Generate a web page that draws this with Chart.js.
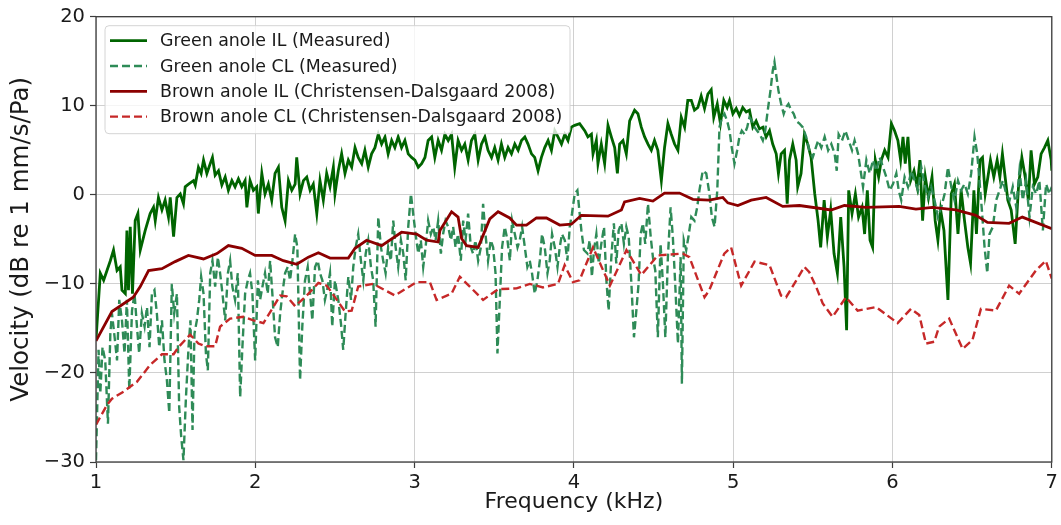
<!DOCTYPE html>
<html>
<head>
<meta charset="utf-8">
<script src="https://cdn.jsdelivr.net/npm/chart.js@4.4.0/dist/chart.umd.min.js"></script>
<style>
  html, body { margin: 0; padding: 0; background: #fff; }
  canvas { display: block; }
</style>
</head>
<body>
<canvas id="c" width="1061" height="525"></canvas>
<script>
// ===== data (frequency kHz, velocity dB re 1 mm/s/Pa) =====
const xTicks = [1, 2, 3, 4, 5, 6, 7]
const yTicks = [-30, -20, -10, 0, 10, 20]

const seriesLabels = [
  'Green anole IL (Measured)',
  'Green anole CL (Measured)',
  'Brown anole IL (Christensen-Dalsgaard 2008)',
  'Brown anole CL (Christensen-Dalsgaard 2008)'
]

const greenIL = [
  [1.000,-16.3],[1.027,-8.8],[1.048,-9.6],[1.069,-8.5],[1.090,-7.4],[1.110,-6.2],[1.132,-8.5],[1.152,-8.1],
  [1.163,-10.7],[1.184,-11.1],[1.194,-4.0],[1.204,-10.7],[1.215,-3.6],[1.229,-11.1],[1.246,-2.9],[1.263,-2.1],
  [1.278,-6.2],[1.309,-4.0],[1.340,-2.1],[1.361,-1.4],[1.372,-2.9],[1.392,-0.3],[1.414,-1.7],[1.434,-0.6],
  [1.455,-2.5],[1.466,-0.3],[1.487,-4.7],[1.508,-0.3],[1.529,0.1],[1.549,-1.0],[1.560,0.9],[1.581,1.2],
  [1.612,1.6],[1.623,1.1],[1.643,3.1],[1.660,2.4],[1.675,3.9],[1.696,2.4],[1.717,3.5],[1.731,4.2],
  [1.748,2.2],[1.769,2.7],[1.790,1.1],[1.811,2.0],[1.831,0.5],[1.853,1.6],[1.873,0.9],[1.894,1.8],
  [1.915,0.9],[1.936,1.6],[1.947,-1.4],[1.967,1.6],[1.988,0.5],[2.009,0.9],[2.019,-2.1],[2.041,2.4],
  [2.061,0.1],[2.082,1.2],[2.103,-0.6],[2.124,2.4],[2.145,3.1],[2.166,-1.4],[2.187,-2.9],[2.208,1.6],
  [2.229,0.5],[2.250,1.2],[2.260,4.2],[2.281,0.1],[2.302,1.6],[2.323,2.0],[2.344,0.5],[2.364,1.2],
  [2.386,-2.1],[2.406,1.6],[2.427,-0.6],[2.448,2.4],[2.469,0.9],[2.490,3.1],[2.500,0.1],[2.521,2.7],
  [2.542,4.6],[2.563,2.4],[2.584,3.9],[2.605,3.1],[2.626,5.3],[2.646,4.2],[2.668,3.5],[2.688,5.0],
  [2.709,3.1],[2.730,4.6],[2.751,5.3],[2.772,6.8],[2.793,5.7],[2.814,6.5],[2.834,4.6],[2.856,6.1],
  [2.876,5.3],[2.897,6.5],[2.918,5.3],[2.939,6.1],[2.960,4.6],[2.981,4.2],[3.002,3.9],[3.023,3.1],
  [3.044,3.5],[3.065,4.2],[3.085,6.1],[3.107,6.5],[3.127,4.2],[3.148,6.1],[3.169,5.0],[3.190,6.8],
  [3.211,6.1],[3.232,6.8],[3.252,3.1],[3.273,6.1],[3.295,5.0],[3.315,5.7],[3.336,3.9],[3.357,6.1],
  [3.378,6.8],[3.399,3.9],[3.420,5.7],[3.441,6.5],[3.461,5.0],[3.483,4.2],[3.503,5.3],[3.524,3.9],
  [3.545,5.7],[3.566,4.2],[3.587,5.3],[3.608,4.6],[3.629,5.7],[3.650,5.0],[3.671,6.1],[3.692,6.5],
  [3.712,5.7],[3.734,4.6],[3.754,4.2],[3.775,2.7],[3.796,4.2],[3.817,5.3],[3.838,6.1],[3.859,5.0],
  [3.880,7.2],[3.900,6.5],[3.922,5.7],[3.943,6.8],[3.963,6.1],[3.984,7.6],[4.005,7.8],[4.036,8.0],
  [4.068,7.2],[4.088,6.5],[4.110,6.8],[4.120,4.6],[4.141,6.1],[4.151,3.5],[4.172,5.7],[4.193,3.5],
  [4.214,7.8],[4.235,6.5],[4.256,5.3],[4.273,2.4],[4.287,5.7],[4.308,6.1],[4.329,4.6],[4.350,8.3],
  [4.381,9.5],[4.402,9.1],[4.423,7.6],[4.444,6.5],[4.465,5.7],[4.486,5.0],[4.506,6.1],[4.527,5.0],
  [4.549,1.6],[4.569,5.3],[4.590,8.0],[4.611,6.8],[4.632,5.7],[4.653,5.0],[4.674,8.7],[4.695,7.6],
  [4.715,10.6],[4.737,10.6],[4.757,9.5],[4.778,9.8],[4.799,11.1],[4.820,9.7],[4.841,11.3],[4.862,11.8],
  [4.878,8.7],[4.900,10.2],[4.920,8.0],[4.941,10.6],[4.962,9.8],[4.977,10.6],[4.998,9.1],[5.019,9.7],
  [5.039,8.9],[5.060,9.8],[5.082,9.3],[5.102,9.5],[5.123,7.6],[5.144,8.3],[5.165,7.4],[5.186,7.6],
  [5.207,6.5],[5.228,7.2],[5.248,5.7],[5.270,4.6],[5.284,2.4],[5.301,4.6],[5.322,5.0],[5.339,-1.0],
  [5.353,3.9],[5.374,5.7],[5.395,3.9],[5.405,0.9],[5.426,2.4],[5.447,6.8],[5.468,5.7],[5.489,4.2],
  [5.512,0.1],[5.533,-2.9],[5.549,-5.9],[5.571,-0.6],[5.591,-4.7],[5.612,-1.7],[5.633,-6.6],[5.654,-8.8],
  [5.675,-2.5],[5.696,-8.1],[5.712,-15.2],[5.725,0.5],[5.746,-2.1],[5.767,0.1],[5.787,-2.5],[5.809,-1.4],
  [5.825,-4.4],[5.842,0.5],[5.859,-5.1],[5.875,-5.9],[5.892,3.9],[5.913,2.0],[5.930,3.9],[5.951,5.0],
  [5.972,4.2],[5.993,8.0],[6.013,7.2],[6.034,6.1],[6.051,3.9],[6.066,6.5],[6.080,3.5],[6.097,6.5],
  [6.114,1.6],[6.135,2.7],[6.155,0.9],[6.172,3.9],[6.189,-2.9],[6.206,2.0],[6.226,-0.3],[6.248,2.0],
  [6.268,-2.9],[6.285,-5.1],[6.302,-1.7],[6.323,-4.0],[6.348,-11.8],[6.369,0.1],[6.389,1.2],[6.411,-4.4],
  [6.431,0.5],[6.452,-2.9],[6.473,-5.9],[6.490,-7.7],[6.511,0.5],[6.527,-4.4],[6.549,3.9],[6.565,4.2],
  [6.582,0.1],[6.599,2.0],[6.615,3.9],[6.636,2.0],[6.657,3.9],[6.674,2.0],[6.690,4.6],[6.707,2.0],
  [6.724,-0.6],[6.745,-1.7],[6.770,-5.5],[6.791,0.9],[6.812,4.2],[6.833,2.0],[6.853,-0.6],[6.870,5.0],
  [6.891,1.2],[6.912,2.0],[6.933,4.6],[6.954,5.3],[6.975,6.1],[6.996,3.9],[7.000,2.7]
]

const greenCL = [
  [1.000,-29.8],[1.016,-17.4],[1.027,-22.3],[1.041,-17.1],[1.058,-18.6],[1.075,-25.7],[1.090,-15.6],[1.100,-13.3],
  [1.117,-16.0],[1.132,-18.6],[1.146,-11.8],[1.163,-14.1],[1.179,-17.8],[1.194,-11.8],[1.209,-21.9],[1.226,-13.0],
  [1.242,-11.1],[1.257,-14.8],[1.271,-17.8],[1.288,-13.3],[1.305,-14.8],[1.320,-12.6],[1.336,-17.1],[1.351,-11.1],
  [1.367,-10.7],[1.382,-13.3],[1.397,-17.1],[1.414,-14.1],[1.430,-18.6],[1.445,-20.8],[1.460,-24.5],[1.476,-10.0],
  [1.491,-13.3],[1.508,-11.1],[1.522,-23.8],[1.535,-27.2],[1.549,-29.8],[1.564,-23.0],[1.581,-17.1],[1.593,-14.1],
  [1.606,-26.4],[1.618,-15.6],[1.633,-14.1],[1.648,-11.8],[1.660,-9.2],[1.675,-11.1],[1.690,-17.8],[1.702,-19.7],
  [1.717,-8.8],[1.731,-7.4],[1.748,-10.3],[1.765,-7.0],[1.779,-8.8],[1.794,-11.1],[1.811,-14.1],[1.828,-8.8],
  [1.842,-7.4],[1.856,-10.3],[1.873,-11.8],[1.890,-8.8],[1.905,-22.7],[1.919,-17.1],[1.936,-11.1],[1.953,-9.6],
  [1.967,-8.8],[1.982,-11.1],[1.999,-18.6],[2.016,-9.6],[2.030,-11.8],[2.045,-10.3],[2.061,-8.8],[2.078,-11.1],
  [2.093,-7.4],[2.107,-11.1],[2.124,-16.0],[2.141,-17.1],[2.156,-13.3],[2.170,-11.1],[2.187,-8.8],[2.204,-8.1],
  [2.218,-9.6],[2.233,-7.4],[2.250,-4.4],[2.264,-5.9],[2.281,-20.8],[2.295,-14.8],[2.312,-9.6],[2.329,-8.1],
  [2.344,-11.1],[2.358,-14.1],[2.375,-8.1],[2.392,-7.4],[2.406,-8.8],[2.421,-9.6],[2.437,-11.8],[2.455,-10.3],
  [2.469,-8.8],[2.483,-14.8],[2.500,-9.6],[2.521,-11.8],[2.538,-14.5],[2.552,-17.4],[2.567,-13.3],[2.584,-9.2],
  [2.601,-11.8],[2.615,-8.1],[2.630,-5.9],[2.646,-4.4],[2.663,-7.4],[2.678,-9.6],[2.693,-6.6],[2.709,-5.1],
  [2.726,-8.1],[2.740,-9.6],[2.755,-14.8],[2.772,-2.5],[2.789,-5.9],[2.803,-7.4],[2.818,-8.8],[2.834,-5.9],
  [2.851,-7.4],[2.866,-2.9],[2.881,-5.9],[2.897,-8.1],[2.914,-5.1],[2.929,-6.6],[2.944,-9.6],[2.960,-3.6],
  [2.977,0.1],[2.991,-2.1],[3.006,-4.4],[3.023,-6.6],[3.039,-5.1],[3.054,-8.1],[3.069,-5.9],[3.085,-2.9],
  [3.102,-4.4],[3.117,-3.6],[3.132,-5.1],[3.148,-2.9],[3.165,-6.6],[3.179,-4.4],[3.194,-2.9],[3.211,-3.6],
  [3.228,-5.1],[3.242,-3.6],[3.257,-5.9],[3.273,-4.4],[3.290,-7.4],[3.305,-2.9],[3.320,-5.1],[3.336,-2.1],
  [3.353,-5.9],[3.367,-6.6],[3.382,-5.1],[3.399,-7.4],[3.416,-5.9],[3.430,-1.0],[3.445,-4.4],[3.461,-7.4],
  [3.478,-5.1],[3.493,-5.9],[3.508,-8.8],[3.520,-17.8],[3.535,-11.8],[3.549,-5.9],[3.566,-3.6],[3.583,-5.1],
  [3.598,-7.4],[3.612,-2.9],[3.629,-4.4],[3.646,-5.9],[3.660,-5.1],[3.675,-3.6],[3.692,-5.9],[3.708,-8.1],
  [3.723,-7.4],[3.737,-8.8],[3.754,-11.1],[3.771,-9.6],[3.786,-7.4],[3.800,-4.4],[3.817,-5.9],[3.834,-8.8],
  [3.848,-7.4],[3.863,-4.4],[3.880,-5.9],[3.897,-8.1],[3.911,-5.9],[3.925,-4.4],[3.943,-5.1],[3.959,-7.4],
  [3.974,-3.6],[3.988,-2.1],[4.005,0.1],[4.022,0.5],[4.034,-1.7],[4.047,-4.0],[4.063,-6.2],[4.085,-6.6],
  [4.099,-5.1],[4.113,-9.2],[4.126,-6.2],[4.141,-4.4],[4.156,-7.7],[4.172,-5.5],[4.189,-3.6],[4.204,-9.6],
  [4.218,-13.0],[4.235,-7.0],[4.251,-3.2],[4.266,-7.7],[4.281,-4.0],[4.298,-3.2],[4.314,-5.5],[4.329,-3.6],
  [4.344,-4.7],[4.361,-10.0],[4.377,-16.0],[4.392,-13.0],[4.406,-10.0],[4.419,-4.4],[4.433,-3.2],[4.448,-5.5],
  [4.465,-1.0],[4.482,-4.7],[4.496,-7.0],[4.511,-8.5],[4.527,-16.0],[4.544,-5.5],[4.559,-10.0],[4.574,-16.0],
  [4.590,-7.0],[4.607,-1.4],[4.621,-4.7],[4.636,-10.0],[4.653,-16.7],[4.670,-7.0],[4.678,-21.2],[4.690,-5.1],
  [4.705,-6.2],[4.719,-4.7],[4.737,-2.5],[4.757,-2.9],[4.774,-1.4],[4.788,0.5],[4.809,2.7],[4.831,2.4],
  [4.851,0.1],[4.866,-2.5],[4.883,-3.6],[4.900,0.5],[4.914,7.6],[4.929,8.7],[4.945,9.1],[4.962,8.3],
  [4.977,7.2],[4.991,5.3],[5.008,3.5],[5.025,5.0],[5.039,6.5],[5.054,7.2],[5.071,6.8],[5.088,7.6],
  [5.102,8.7],[5.117,8.3],[5.134,7.6],[5.150,7.2],[5.167,6.8],[5.186,6.1],[5.201,7.2],[5.217,9.5],
  [5.234,11.7],[5.248,13.9],[5.259,14.9],[5.272,13.2],[5.284,11.7],[5.301,10.2],[5.317,9.1],[5.330,9.8],
  [5.347,10.2],[5.364,9.5],[5.380,9.1],[5.395,8.3],[5.416,8.0],[5.436,7.6],[5.458,6.5],[5.478,5.0],
  [5.499,4.2],[5.533,6.1],[5.553,5.3],[5.574,6.5],[5.596,5.0],[5.616,5.7],[5.637,4.6],[5.650,2.7],
  [5.662,6.8],[5.683,6.1],[5.704,7.2],[5.725,6.1],[5.746,5.0],[5.762,6.1],[5.784,4.6],[5.800,2.7],
  [5.815,0.9],[5.836,3.9],[5.857,2.4],[5.878,3.9],[5.898,2.7],[5.919,4.2],[5.941,3.1],[5.961,2.0],
  [5.982,0.5],[6.003,1.2],[6.024,2.4],[6.039,0.5],[6.055,-0.6],[6.076,2.0],[6.097,0.9],[6.118,2.7],
  [6.139,1.6],[6.160,0.5],[6.181,3.1],[6.201,1.2],[6.223,-0.3],[6.243,0.9],[6.264,-0.6],[6.285,-2.5],
  [6.306,-1.4],[6.327,0.1],[6.348,3.1],[6.369,0.9],[6.389,-0.6],[6.411,1.6],[6.431,0.5],[6.452,1.2],
  [6.473,0.1],[6.494,2.4],[6.515,6.5],[6.532,4.6],[6.546,1.6],[6.561,-1.7],[6.578,-5.9],[6.595,-8.8],
  [6.609,-4.4],[6.630,-3.6],[6.651,-0.6],[6.672,0.5],[6.693,1.6],[6.714,0.1],[6.735,-0.6],[6.755,0.9],
  [6.777,-1.4],[6.797,2.7],[6.818,-0.6],[6.839,1.6],[6.860,-2.5],[6.881,0.9],[6.902,0.1],[6.922,1.6],
  [6.944,-4.0],[6.964,1.2],[6.985,0.1],[7.000,0.9]
]

const brownIL = [
  [1.000,-16.4],[1.100,-13.1],[1.234,-11.5],[1.278,-10.3],[1.330,-8.5],[1.414,-8.3],[1.497,-7.5],[1.580,-6.8],
  [1.675,-7.2],[1.759,-6.6],[1.831,-5.7],[1.915,-6.0],[1.999,-6.8],[2.103,-6.8],[2.176,-7.4],[2.260,-7.8],
  [2.333,-7.0],[2.396,-6.5],[2.469,-7.1],[2.584,-7.1],[2.626,-6.0],[2.699,-5.1],[2.793,-5.7],[2.918,-4.2],
  [3.013,-4.4],[3.075,-5.1],[3.148,-5.3],[3.159,-4.0],[3.232,-1.9],[3.273,-2.5],[3.295,-4.9],[3.326,-5.7],
  [3.399,-5.9],[3.472,-2.7],[3.524,-1.9],[3.597,-2.6],[3.640,-3.4],[3.702,-3.4],[3.765,-2.6],[3.828,-2.6],
  [3.911,-3.4],[3.984,-3.3],[4.047,-2.3],[4.214,-2.4],[4.298,-1.7],[4.318,-0.8],[4.412,-0.4],[4.496,-0.7],
  [4.569,0.2],[4.663,0.2],[4.747,-0.5],[4.850,-0.6],[4.935,-0.3],[4.966,-0.9],[5.029,-1.2],[5.113,-0.6],
  [5.207,-0.3],[5.311,-1.3],[5.416,-1.2],[5.614,-1.7],[5.698,-1.2],[5.834,-1.4],[6.042,-1.3],[6.147,-1.6],
  [6.251,-1.4],[6.398,-1.7],[6.523,-2.3],[6.596,-3.1],[6.732,-3.2],[6.815,-2.5],[7.000,-3.8]
]

const brownCL = [
  [1.000,-25.8],[1.069,-23.6],[1.100,-22.9],[1.173,-22.1],[1.257,-21.0],[1.340,-19.1],[1.414,-17.9],[1.487,-17.9],
  [1.518,-17.1],[1.591,-15.7],[1.643,-16.7],[1.685,-17.0],[1.748,-17.0],[1.779,-14.8],[1.842,-13.9],[1.925,-13.7],
  [1.988,-14.1],[2.051,-14.4],[2.103,-12.9],[2.156,-11.3],[2.197,-11.4],[2.250,-12.5],[2.323,-11.3],[2.396,-9.9],
  [2.448,-10.2],[2.469,-10.7],[2.563,-13.1],[2.605,-13.0],[2.646,-10.3],[2.740,-10.0],[2.876,-11.3],[3.013,-9.8],
  [3.096,-9.8],[3.138,-11.8],[3.232,-11.1],[3.284,-9.2],[3.430,-11.8],[3.524,-10.6],[3.640,-10.5],[3.723,-10.0],
  [3.806,-10.4],[3.900,-10.0],[3.942,-7.9],[3.994,-9.8],[4.035,-9.6],[4.120,-5.9],[4.226,-10.2],[4.330,-6.2],
  [4.423,-9.0],[4.527,-6.8],[4.684,-6.6],[4.725,-7.0],[4.820,-11.5],[4.850,-10.7],[4.944,-6.6],[4.987,-5.9],
  [5.050,-10.2],[5.134,-7.5],[5.228,-7.9],[5.300,-11.3],[5.332,-11.5],[5.447,-8.1],[5.478,-8.7],[5.520,-10.3],
  [5.562,-12.2],[5.624,-13.7],[5.708,-11.5],[5.781,-13.0],[5.897,-12.6],[6.032,-14.4],[6.116,-12.8],[6.168,-13.5],
  [6.210,-16.7],[6.262,-16.5],[6.293,-14.8],[6.356,-13.9],[6.440,-17.3],[6.502,-16.3],[6.555,-12.8],[6.649,-13.0],
  [6.732,-10.2],[6.795,-11.1],[6.900,-8.5],[6.962,-7.4],[7.000,-9.4]
]

// ===== chart =====
const FONT = '"DejaVu Sans", "Liberation Sans", sans-serif'
const toPts = arr => arr.map(([x, y]) => ({ x, y }))
const fmtTick = v => (v < 0 ? '\u2212' + Math.abs(v) : String(v))

// frame (all four spines) over the lines, legend box on top of everything
const frameLegend = {
  id: 'frameLegend',
  afterDatasetsDraw(chart) {
    const { ctx, chartArea: a } = chart
    ctx.save()
    ctx.strokeStyle = '#3c3c3c'
    ctx.lineWidth = 1.3
    ctx.strokeRect(a.left, a.top, a.right - a.left, a.bottom - a.top)
    ctx.restore()
  },
  afterDraw(chart) {
    const { ctx, chartArea: a } = chart
    const x0 = a.left + 9, y0 = a.top + 9, w = 465, h = 108, r = 4
    ctx.save()
    ctx.beginPath()
    ctx.moveTo(x0 + r, y0)
    ctx.lineTo(x0 + w - r, y0); ctx.arcTo(x0 + w, y0, x0 + w, y0 + r, r)
    ctx.lineTo(x0 + w, y0 + h - r); ctx.arcTo(x0 + w, y0 + h, x0 + w - r, y0 + h, r)
    ctx.lineTo(x0 + r, y0 + h); ctx.arcTo(x0, y0 + h, x0, y0 + h - r, r)
    ctx.lineTo(x0, y0 + r); ctx.arcTo(x0, y0, x0 + r, y0, r)
    ctx.closePath()
    ctx.fillStyle = 'rgba(255,255,255,0.8)'
    ctx.fill()
    ctx.strokeStyle = '#d4d4d4'
    ctx.lineWidth = 1
    ctx.stroke()

    chart.data.datasets.forEach((ds, i) => {
      const y = y0 + 15 + i * 25.3
      ctx.beginPath()
      ctx.setLineDash(ds.borderDash || [])
      ctx.strokeStyle = ds.borderColor
      ctx.lineWidth = ds.borderWidth
      ctx.moveTo(x0 + 5, y)
      ctx.lineTo(x0 + 42, y)
      ctx.stroke()
      ctx.setLineDash([])
      ctx.fillStyle = '#1a1a1a'
      ctx.font = '17.4px ' + FONT
      ctx.textBaseline = 'middle'
      ctx.fillText(ds.label, x0 + 55, y + 1)
    })
    ctx.restore()
  }
}

const gridOpts = {
  color: 'rgba(176,176,176,0.6)',
  lineWidth: 1,
  tickLength: 6,
  tickColor: '#3c3c3c',
  tickWidth: 1.2
}

new Chart(document.getElementById('c'), {
  type: 'line',
  data: {
    datasets: [{
      label: seriesLabels[0], data: toPts(greenIL),
      borderColor: '#006400', borderWidth: 2.8, order: 4
    }, {
      label: seriesLabels[1], data: toPts(greenCL),
      borderColor: '#2e8b57', borderWidth: 2.4, borderDash: [8, 4], order: 3
    }, {
      label: seriesLabels[2], data: toPts(brownIL),
      borderColor: '#8b0000', borderWidth: 2.8, order: 2
    }, {
      label: seriesLabels[3], data: toPts(brownCL),
      borderColor: '#c62828', borderWidth: 2.4, borderDash: [8, 4], order: 1
    }]
  },
  options: {
    responsive: false,
    animation: false,
    elements: { point: { radius: 0 }, line: { tension: 0, fill: false } },
    layout: { padding: { left: 0, right: 8, top: 16, bottom: 0 } },
    plugins: { legend: { display: false }, tooltip: { enabled: false } },
    scales: {
      x: {
        type: 'linear', min: 1, max: 7,
        afterBuildTicks: s => { s.ticks = xTicks.map(v => ({ value: v })) },
        afterFit: s => { s.height = 63 },
        ticks: { font: { family: FONT, size: 19.5 }, color: '#1a1a1a', padding: 3, maxRotation: 0, autoSkip: false, callback: fmtTick },
        grid: gridOpts,
        border: { display: false },
        title: { display: true, text: 'Frequency (kHz)', color: '#1a1a1a', font: { family: FONT, size: 22 }, padding: { top: 0, bottom: 10 } }
      },
      y: {
        type: 'linear', min: -30, max: 20,
        afterBuildTicks: s => { s.ticks = yTicks.map(v => ({ value: v })) },
        afterFit: s => { s.width = 96 },
        ticks: { font: { family: FONT, size: 19.5 }, color: '#1a1a1a', padding: 5, autoSkip: false, callback: fmtTick },
        grid: gridOpts,
        border: { display: false },
        title: { display: true, text: 'Velocity (dB re 1 mm/s/Pa)', color: '#1a1a1a', font: { family: FONT, size: 24.5 }, padding: { top: 7, bottom: 0 } }
      }
    }
  },
  plugins: [frameLegend]
})
</script>
</body>
</html>
